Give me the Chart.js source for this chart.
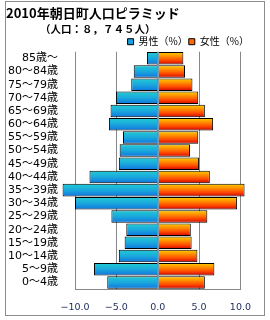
<!DOCTYPE html>
<html>
<head>
<meta charset="utf-8">
<script src="https://cdn.jsdelivr.net/npm/chart.js@4/dist/chart.umd.min.js"></script>
<style>
    html, body { margin: 0; padding: 0; background: #fff; }
    #frame { position: absolute; left: 5px; top: 1px; width: 258px; height: 313px; border: 1px solid #8c8c8c; }
</style>
</head>
<body>
<div id="frame"><canvas id="pyramid_chart"></canvas></div>
<script>
// datos (de arriba hacia abajo: 85歳～ ... 0～4歳)
const ageGroups = ["85歳～", "80～84歳", "75～79歳", "70～74歳", "65～69歳", "60～64歳",
    "55～59歳", "50～54歳", "45～49歳", "40～44歳", "35～39歳", "30～34歳",
    "25～29歳", "20～24歳", "15～19歳", "10～14歳", "5～9歳", "0～4歳"];
const malePct = [1.3, 2.9, 3.2, 5.05, 5.7, 5.9, 4.2, 4.6, 4.7, 8.25, 11.5, 10.0, 5.6, 3.8, 4.0, 4.7, 7.7, 6.1];
const femalePct = [3.1, 3.3, 4.2, 4.9, 5.7, 6.7, 4.9, 3.9, 5.0, 6.3, 10.5, 9.6, 6.0, 4.0, 4.1, 4.8, 6.85, 5.7];
const xTicks = [-10, -5, 0, 5, 10];

const FONT = "'Noto Sans CJK JP', 'Noto Sans', sans-serif";
const TICK_FONT = "'DejaVu Sans', 'Noto Sans CJK JP', sans-serif";
const BAR_PCT = 0.95;

// degradado vertical por barra
function barGradient(stops, fallback) {
    return (ctx) => {
        const chart = ctx.chart;
        if (!chart.chartArea || ctx.type !== 'data') return fallback;
        const y = chart.scales.y.getPixelForValue(ctx.dataIndex);
        const h = chart.scales.y.height / ageGroups.length * BAR_PCT;
        const g = chart.ctx.createLinearGradient(0, y - h / 2, 0, y + h / 2);
        stops.forEach((c, i) => g.addColorStop(i / (stops.length - 1), c));
        return g;
    };
}

// linea del cero encima de las barras
const zeroLine = {
    id: 'zeroLine',
    afterDatasetsDraw(chart) {
        const {ctx, chartArea} = chart;
        const x = Math.round(chart.scales.x.getPixelForValue(0)) + 0.5;
        ctx.save();
        ctx.strokeStyle = '#8a98a6';
        ctx.lineWidth = 1;
        ctx.beginPath();
        ctx.moveTo(x, chartArea.top);
        ctx.lineTo(x, chartArea.bottom);
        ctx.stroke();
        ctx.restore();
    }
};

let config = {
    type: 'bar',
    data: {
        labels: ageGroups,
        datasets: [{
            label: "男性（%）",
            data: malePct.map(v => -v),
            backgroundColor: barGradient(['#22ccd4', '#1aa8dc', '#0f74e0'], '#1aa0e0'),
            borderColor: '#000',
            borderWidth: 1,
            clip: false
        }, {
            label: "女性（%）",
            data: femalePct,
            backgroundColor: barGradient(['#ffd000', '#ff9000', '#ff4a00', '#d00000'], '#ff6a00'),
            borderColor: '#000',
            borderWidth: 1,
            clip: false
        }]
    },
    options: {
        indexAxis: 'y',
        responsive: true,
        maintainAspectRatio: false,
        animation: false,
        layout: { padding: { top: 0, left: 0, right: 14, bottom: 3 } },
        datasets: { bar: { barPercentage: BAR_PCT, categoryPercentage: 1 } },
        scales: {
            x: {
                stacked: true,
                min: -10,
                max: 10,
                afterBuildTicks: (scale) => { scale.ticks = xTicks.map(v => ({ value: v })); },
                afterFit: (scale) => { scale.height = 23; },
                grid: { color: '#888', drawTicks: false },
                border: { display: true, color: '#888' },
                ticks: {
                    padding: 13,
                    color: '#1c2a5a',
                    font: { family: TICK_FONT, size: 9.5 },
                    callback: (v) => (v < 0 ? '\u2212' : '') + Math.abs(Number(v)).toFixed(1)
                }
            },
            y: {
                stacked: true,
                grid: { display: false },
                border: { display: false },
                afterFit: (scale) => { scale.width = 69; },
                ticks: {
                    padding: 9,
                    color: '#000',
                    autoSkip: false,
                    font: { family: TICK_FONT, size: 11 }
                }
            }
        },
        plugins: {
            title: {
                display: true,
                text: "2010年朝日町人口ピラミッド",
                align: 'start',
                color: '#000',
                font: { family: FONT, size: 13, weight: 'bold' },
                padding: { top: 3, bottom: 0 }
            },
            subtitle: {
                display: true,
                text: "　　　 （人口：８，７４５人）",
                align: 'start',
                color: '#000',
                font: { family: FONT, size: 10.5, weight: 'bold' },
                padding: { top: 2.5, bottom: 0 }
            },
            legend: {
                position: 'top',
                align: 'end',
                maxHeight: 16,
                labels: {
                    boxWidth: 6,
                    boxHeight: 6,
                    padding: 1,
                    color: '#000',
                    font: { family: FONT, size: 10 },
                    generateLabels: (chart) => chart.data.datasets.map((ds, i) => ({
                        text: ds.label,
                        fillStyle: i === 0 ? '#1aa0e0' : '#ff6a00',
                        strokeStyle: '#000',
                        lineWidth: 1,
                        datasetIndex: i
                    }))
                }
            },
            tooltip: { enabled: false }
        }
    },
    plugins: [zeroLine]
};

new Chart(document.getElementById("pyramid_chart").getContext("2d"), config);
</script>
</body>
</html>
